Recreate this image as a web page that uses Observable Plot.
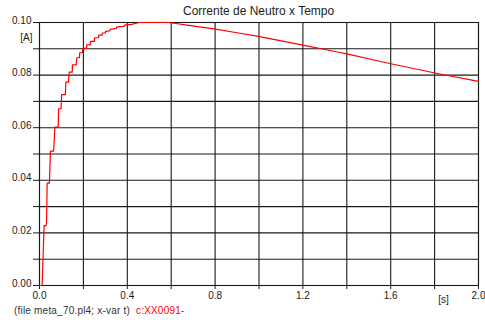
<!DOCTYPE html>
<html>
<head>
<meta charset="utf-8">
<script src="https://cdn.jsdelivr.net/npm/d3@7"></script>
<script src="https://cdn.jsdelivr.net/npm/@observablehq/plot@0.6"></script>
<style>
  body { margin: 0; background: #fff; }
  #chart { position: relative; width: 485px; height: 320px; font-family: "Liberation Sans", Arial, sans-serif; color: #222; }
  #chart svg { position: absolute; left: 0; top: 0; }
  #title { position: absolute; left: 183px; top: 5px; font-size: 12px; line-height: 12px; white-space: nowrap; }
  #caption { position: absolute; left: 14px; top: 306px; font-size: 10px; line-height: 10px; white-space: nowrap; color: #333; letter-spacing: 0.2px; }
  #caption .tag { color: #ff0000; }
</style>
</head>
<body>
<div id="chart">
  <div id="title">Corrente de Neutro x Tempo</div>
  <div id="caption">(file meta_70.pl4; x-var t)&nbsp; <span class="tag">c:XX0091-</span></div>
</div>
<script>
// Neutral current trace: time in seconds, current in amperes
const time = [
  0.000, 0.012, 0.021, 0.030, 0.032, 0.035, 0.045, 0.050, 0.064, 0.065,
  0.070, 0.085, 0.087, 0.098, 0.101, 0.118, 0.120, 0.132, 0.135, 0.149,
  0.150, 0.167, 0.170, 0.182, 0.183, 0.196, 0.197, 0.214, 0.215, 0.231,
  0.232, 0.250, 0.251, 0.269, 0.270, 0.285, 0.286, 0.300, 0.301, 0.320,
  0.322, 0.350, 0.352, 0.385, 0.387, 0.420, 0.440, 0.455, 0.590, 0.680,
  0.795, 0.900, 0.997, 1.194, 1.364, 1.400, 1.590, 1.818, 2.000
];
const current = [
  0.0000, 0.0000, 0.0228, 0.0228, 0.0240, 0.0389, 0.0389, 0.0511, 0.0511, 0.0520,
  0.0602, 0.0602, 0.0672, 0.0672, 0.0726, 0.0726, 0.0773, 0.0773, 0.0811, 0.0811,
  0.0839, 0.0839, 0.0866, 0.0866, 0.0885, 0.0885, 0.0902, 0.0902, 0.0915, 0.0915,
  0.0928, 0.0928, 0.0942, 0.0942, 0.0952, 0.0952, 0.0960, 0.0960, 0.0966, 0.0968,
  0.0974, 0.0978, 0.0983, 0.0985, 0.0990, 0.0993, 0.0997, 0.1000, 0.1000, 0.0989,
  0.0976, 0.0961, 0.0947, 0.0915, 0.0887, 0.0881, 0.0845, 0.0805, 0.0776
];

// Axis ticks and grid positions
const xGrid = [0.0, 0.2, 0.4, 0.6, 0.8, 1.0, 1.2, 1.4, 1.6, 1.8, 2.0];
const xLabels = [0.0, 0.4, 0.8, 1.2, 1.6, 2.0];
const yGrid = [0.00, 0.01, 0.02, 0.03, 0.04, 0.05, 0.06, 0.07, 0.08, 0.09, 0.10];
const yLabels = [0.00, 0.02, 0.04, 0.06, 0.08, 0.10];

const xUnit = "[s]";
const yUnit = "[A]";

const trace = time.map((t, i) => ({t, a: current[i]}));
const ink = "#1a1a1a";

const chart = Plot.plot({
  width: 485,
  height: 320,
  marginLeft: 39,
  marginRight: 7,
  marginTop: 22,
  marginBottom: 35,
  style: {fontFamily: "'Liberation Sans', Arial, sans-serif", fontSize: "10px", color: ink, background: "transparent"},
  x: {domain: [0, 2]},
  y: {domain: [0, 0.1]},
  marks: [
    Plot.gridX(xGrid, {stroke: ink, strokeOpacity: 1, strokeWidth: 1.1}),
    Plot.gridY(yGrid, {stroke: ink, strokeOpacity: 1, strokeWidth: 1.1}),
    Plot.frame({stroke: ink, strokeWidth: 1.1}),
    Plot.axisX(xGrid, {tickSize: 4, tickFormat: () => "", label: null, stroke: ink}),
    Plot.axisX(xLabels, {tickSize: 0, tickPadding: 6, tickFormat: d3.format(".1f"), label: null, fill: ink}),
    Plot.axisY(yGrid, {tickSize: 6, tickFormat: () => "", label: null, stroke: ink}),
    Plot.axisY(yLabels, {tickSize: 0, tickPadding: 8, tickFormat: d3.format(".2f"), label: null, fill: ink, lineAnchor: "bottom", dy: 1}),
    Plot.text([yUnit], {frameAnchor: "top-left", text: d => d, textAnchor: "end", lineAnchor: "bottom", dx: -7, dy: 18, fill: ink, fontSize: 10}),
    Plot.text([xUnit], {frameAnchor: "bottom-right", text: d => d, textAnchor: "middle", lineAnchor: "bottom", dx: -35, dy: 17, fill: ink, fontSize: 10}),
    Plot.line(trace, {x: "t", y: "a", stroke: "#ff0000", strokeWidth: 1.2})
  ]
});

document.getElementById("chart").prepend(chart);
</script>
</body>
</html>
